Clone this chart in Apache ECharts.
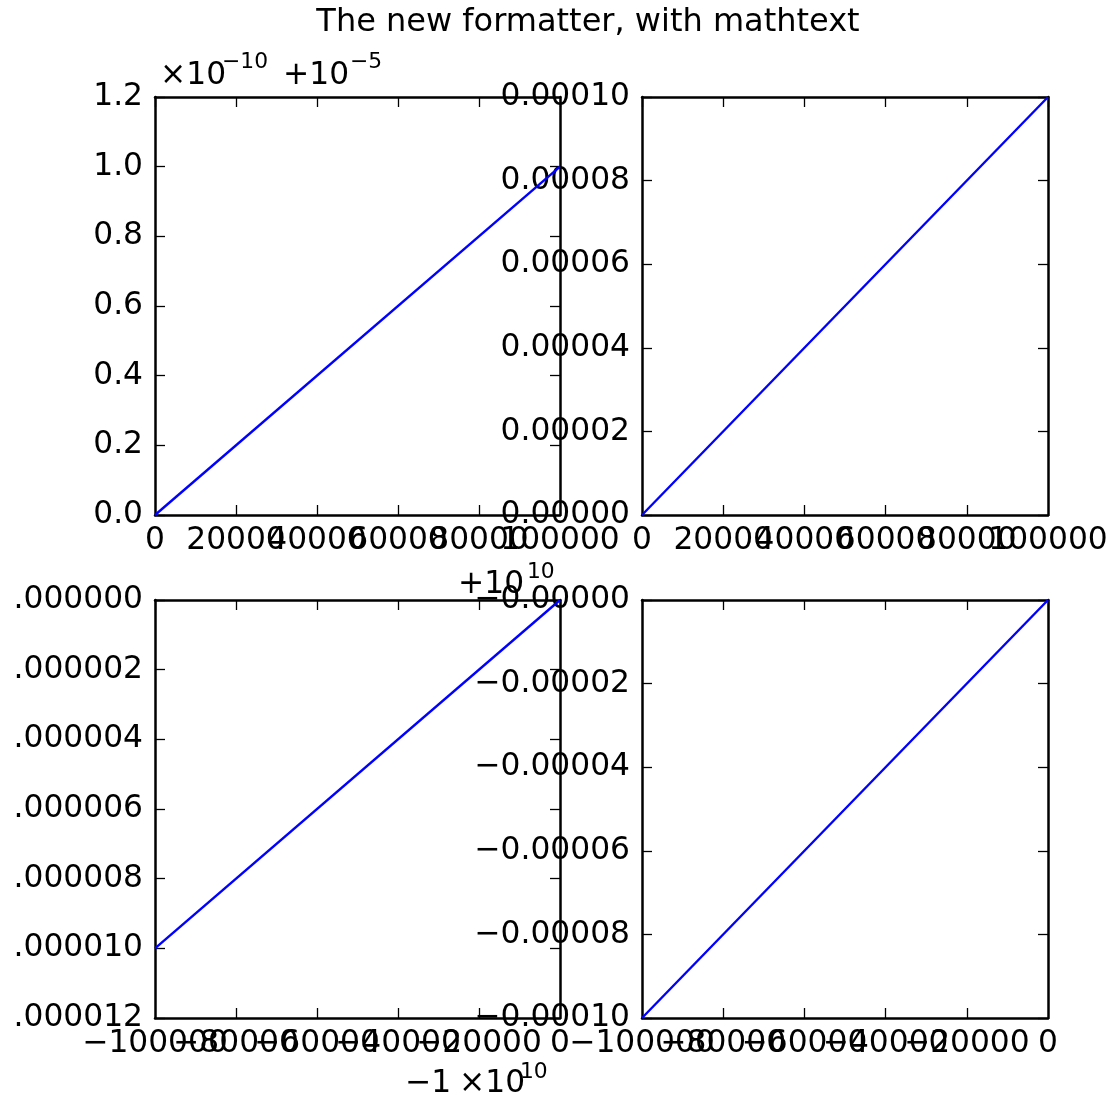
<!DOCTYPE html>
<html>
<head>
<meta charset="utf-8">
<script src="https://cdn.jsdelivr.net/npm/echarts@6/dist/echarts.min.js"></script>
<style>
  html, body { margin: 0; padding: 0; background: #fff; }
  #chart { width: 1110px; height: 1101px; }
</style>
</head>
<body>
<div id="chart"></div>
<script>
// ---- data ----
var tlX = [0, 100000];
var tlY = [0, 1.0];
var trX = [0, 100000];
var trY = [0, 0.0001];
var blX = [-100000, 0];
var blY = [-0.00001, 0];
var brX = [-100000, 0];
var brY = [-0.0001, 0];

// ---- tick labels (bottom-to-top / left-to-right) ----
var xLabelsPos = ["0", "20000", "40000", "60000", "80000", "100000"];
var xLabelsNeg = ["\u2212100000", "\u221280000", "\u221260000", "\u221240000", "\u221220000", "0"];
var yLabelsTL = ["0.0", "0.2", "0.4", "0.6", "0.8", "1.0", "1.2"];
var yLabelsTR = ["0.00000", "0.00002", "0.00004", "0.00006", "0.00008", "0.00010"];
var yLabelsBL = [".000012", ".000010", ".000008", ".000006", ".000004", ".000002", ".000000"];
var yLabelsBR = ["\u22120.00010", "\u22120.00008", "\u22120.00006", "\u22120.00004", "\u22120.00002", "\u22120.00000"];

var FONT = 'DejaVu Sans';
var FS = 31.3;
var TFS = 32;
var SUP = 21.8;

var grids = [
  { left: 155, top: 97, width: 405, height: 418 },
  { left: 642, top: 97, width: 406, height: 418 },
  { left: 155, top: 600, width: 405, height: 418 },
  { left: 642, top: 600, width: 406, height: 418 }
];

var axesDef = [
  { xmin: 0, xmax: 100000, xint: 20000, xl: xLabelsPos, ymin: 0, ymax: 1.2, yint: 0.2, yl: yLabelsTL, xs: tlX, ys: tlY },
  { xmin: 0, xmax: 100000, xint: 20000, xl: xLabelsPos, ymin: 0, ymax: 0.0001, yint: 0.00002, yl: yLabelsTR, xs: trX, ys: trY },
  { xmin: -100000, xmax: 0, xint: 20000, xl: xLabelsNeg, ymin: -0.000012, ymax: 0, yint: 0.000002, yl: yLabelsBL, xs: blX, ys: blY },
  { xmin: -100000, xmax: 0, xint: 20000, xl: xLabelsNeg, ymin: -0.0001, ymax: 0, yint: 0.00002, yl: yLabelsBR, xs: brX, ys: brY }
];

// which: 'all' | 'inner' | 'ends'
function labelFn(labels, min, interval, which) {
  return function (v) {
    var i = Math.round((v - min) / interval);
    var last = labels.length - 1;
    if (which === 'inner' && (i === 0 || i === last)) return '';
    if (which === 'ends' && !(i === 0 || i === last)) return '';
    return labels[i] !== undefined ? labels[i] : '';
  };
}

var xAxes = [], yAxes = [], series = [];
axesDef.forEach(function (d, g) {
  var common = {
    type: 'value',
    gridIndex: g,
    splitLine: { show: false },
    axisLine: { show: true, onZero: false, lineStyle: { color: '#000', width: 2.5 } },
    axisTick: { show: true, inside: true, length: 10, lineStyle: { color: '#000', width: 1.3 } }
  };
  var xLab = { show: true, margin: 10, hideOverlap: false, color: '#000', fontFamily: FONT, fontSize: FS };
  // primary x (bottom) - inner labels
  xAxes.push(Object.assign({}, common, {
    position: 'bottom', min: d.xmin, max: d.xmax, interval: d.xint,
    axisLabel: Object.assign({}, xLab, { showMinLabel: false, showMaxLabel: false, formatter: labelFn(d.xl, d.xmin, d.xint, 'inner') })
  }));
  // secondary x (top)
  xAxes.push(Object.assign({}, common, {
    position: 'top', min: d.xmin, max: d.xmax, interval: d.xint,
    axisLabel: { show: false }
  }));
  // extra bottom x for the end labels
  xAxes.push(Object.assign({}, common, {
    position: 'bottom', min: d.xmin, max: d.xmax, interval: d.xint,
    axisLine: { show: false, onZero: false }, axisTick: { show: false },
    axisLabel: Object.assign({}, xLab, { showMinLabel: true, showMaxLabel: true, formatter: labelFn(d.xl, d.xmin, d.xint, 'ends') })
  }));
  yAxes.push(Object.assign({}, common, {
    position: 'left', min: d.ymin, max: d.ymax, interval: d.yint,
    axisLabel: { show: true, margin: 12, showMinLabel: true, showMaxLabel: true, hideOverlap: false,
      color: '#000', fontFamily: FONT, fontSize: FS, formatter: labelFn(d.yl, d.ymin, d.yint, 'all') }
  }));
  yAxes.push(Object.assign({}, common, {
    position: 'right', min: d.ymin, max: d.ymax, interval: d.yint,
    axisLabel: { show: false }
  }));
  series.push({
    type: 'line',
    xAxisIndex: g * 3,
    yAxisIndex: g * 2,
    data: d.xs.map(function (x, i) { return [x, d.ys[i]]; }),
    showSymbol: false,
    symbol: 'none',
    lineStyle: { color: '#0000ff', width: 2.4 },
    z: 1,
    animation: false
  });
});

function txt(s, x, y, size, align) {
  return {
    type: 'text', x: x, y: y, z: 100,
    style: { text: s, font: size + 'px "' + FONT + '"', fill: '#000', textAlign: align || 'left', textVerticalAlign: 'middle' }
  };
}
// baseline ≈ middle + 0.346*size
function txtB(s, x, baseline, size, align) {
  return txt(s, x, baseline - 0.346 * size, size, align);
}

var graphics = [
  txtB('The new formatter, with mathtext', 588, 34, TFS, 'center'),
  // top-left offset text
  txtB('\u00d710', 160, 87, FS),
  txtB('\u221210', 222, 70, SUP),
  txtB('+10', 283, 87, FS),
  txtB('\u22125', 350, 70, SUP),
  // bottom-left y offset
  txtB('+10', 458, 596, FS),
  txtB('10', 527, 580, SUP),
  // bottom-left x offset
  txtB('\u22121', 405, 1095, FS),
  txtB('\u00d710', 459, 1095, FS),
  txtB('10', 520, 1080, SUP)
];

var chart = echarts.init(document.getElementById('chart'), null, { renderer: 'canvas' });
chart.setOption({
  animation: false,
  backgroundColor: '#fff',
  grid: grids.map(function (g) { return Object.assign({ containLabel: false, outerBoundsMode: 'none' }, g); }),
  xAxis: xAxes,
  yAxis: yAxes,
  series: series,
  graphic: graphics
});
</script>
</body>
</html>
